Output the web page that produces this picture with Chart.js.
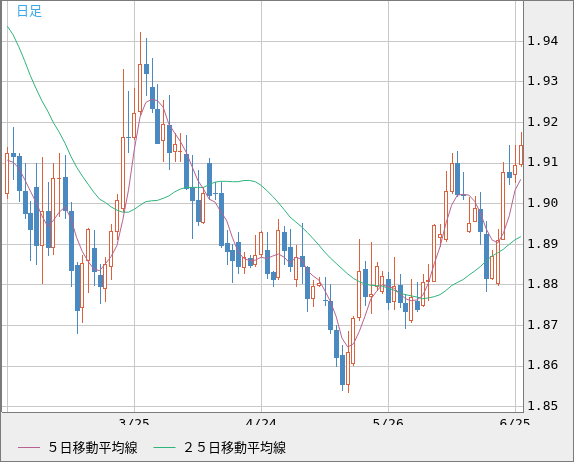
<!DOCTYPE html>
<html>
<head>
<meta charset="utf-8">
<script src="https://cdn.jsdelivr.net/npm/chart.js@4/dist/chart.umd.min.js"></script>
<style>
  html, body { margin: 0; padding: 0; background: #fff; }
  #wrap { width: 574px; height: 462px; box-sizing: border-box; border: 1px solid #7b7b7b; background: #eeeeee; overflow: hidden; }
  canvas { display: block; }
</style>
</head>
<body>
<div id="wrap"><canvas id="chart" width="572" height="460"></canvas></div>
<script>
// daily candles, oldest first
const opens = [
  1.9025, 1.9124, 1.9117, 1.9031, 1.8976, 1.9040, 1.8896, 1.8981, 1.8891, 1.9061,
  1.9066, 1.8982, 1.8848, 1.8743, 1.8860, 1.8892, 1.8824, 1.8790, 1.8844, 1.8929,
  1.8988, 1.9165, 1.9161, 1.9225, 1.9344, 1.9287, 1.9232, 1.9155, 1.9194, 1.9126,
  1.9128, 1.9122, 1.9041, 1.9008, 1.8952, 1.9100, 1.9026, 1.9026, 1.8903, 1.8885,
  1.8905, 1.8842, 1.8866, 1.8850, 1.8873, 1.8887, 1.8831, 1.8817, 1.8929, 1.8893,
  1.8811, 1.8870, 1.8844, 1.8766, 1.8797, 1.8764, 1.8761, 1.8689, 1.8628, 1.8553,
  1.8605, 1.8719, 1.8840, 1.8770, 1.8794, 1.8782, 1.8815, 1.8757, 1.8800, 1.8755,
  1.8710, 1.8761, 1.8749, 1.8807, 1.8808, 1.8916, 1.8910, 1.9029, 1.9100, 1.9022,
  1.8930, 1.8956, 1.8988, 1.8926, 1.8815, 1.8803, 1.8911, 1.9078, 1.9070, 1.9095
];
const highs = [
  1.9139, 1.9189, 1.9124, 1.9100, 1.9006, 1.9100, 1.9115, 1.9054, 1.9101, 1.9124,
  1.9120, 1.9004, 1.8856, 1.8873, 1.8941, 1.8934, 1.8852, 1.8868, 1.8951, 1.9023,
  1.9332, 1.9278, 1.9284, 1.9423, 1.9408, 1.9358, 1.9295, 1.9255, 1.9268, 1.9173,
  1.9173, 1.9169, 1.9120, 1.9084, 1.9041, 1.9113, 1.9054, 1.9054, 1.8934, 1.8901,
  1.8930, 1.8881, 1.8873, 1.8922, 1.8932, 1.8930, 1.8835, 1.8963, 1.8944, 1.8938,
  1.8897, 1.8952, 1.8846, 1.8811, 1.8819, 1.8819, 1.8803, 1.8700, 1.8653, 1.8687,
  1.8724, 1.8914, 1.8860, 1.8905, 1.8856, 1.8835, 1.8831, 1.8868, 1.8827, 1.8778,
  1.8815, 1.8807, 1.8827, 1.8852, 1.8951, 1.8951, 1.9080, 1.9125, 1.9130, 1.9078,
  1.9017, 1.9018, 1.9029, 1.8957, 1.8885, 1.8938, 1.9103, 1.9144, 1.9144, 1.9177
];
const lows = [
  1.9011, 1.9058, 1.9004, 1.8961, 1.8860, 1.8848, 1.8801, 1.8870, 1.8873, 1.8967,
  1.8963, 1.8794, 1.8679, 1.8705, 1.8779, 1.8798, 1.8753, 1.8757, 1.8811, 1.8910,
  1.8979, 1.9124, 1.9157, 1.9216, 1.9265, 1.9223, 1.9147, 1.9103, 1.9082, 1.9103,
  1.9103, 1.9033, 1.8914, 1.8944, 1.8949, 1.9008, 1.9008, 1.8890, 1.8848, 1.8804,
  1.8827, 1.8827, 1.8841, 1.8843, 1.8868, 1.8815, 1.8794, 1.8811, 1.8848, 1.8831,
  1.8794, 1.8803, 1.8732, 1.8745, 1.8794, 1.8747, 1.8680, 1.8598, 1.8539, 1.8535,
  1.8601, 1.8712, 1.8749, 1.8729, 1.8786, 1.8778, 1.8737, 1.8737, 1.8744, 1.8691,
  1.8705, 1.8732, 1.8745, 1.8761, 1.8807, 1.8893, 1.8905, 1.9025, 1.9017, 1.9008,
  1.8928, 1.8955, 1.8897, 1.8782, 1.8811, 1.8797, 1.8910, 1.9045, 1.9050, 1.9091
];
const closes = [
  1.9124, 1.9115, 1.9031, 1.8974, 1.8936, 1.8895, 1.8981, 1.8891, 1.9062, 1.9064,
  1.8982, 1.8835, 1.8735, 1.8854, 1.8937, 1.8831, 1.8794, 1.8852, 1.8932, 1.9008,
  1.9163, 1.9162, 1.9223, 1.9344, 1.9319, 1.9232, 1.9148, 1.9195, 1.9124, 1.9147,
  1.9130, 1.9037, 1.9007, 1.8955, 1.9027, 1.9018, 1.9023, 1.8895, 1.8881, 1.8860,
  1.8844, 1.8868, 1.8846, 1.8874, 1.8929, 1.8826, 1.8812, 1.8934, 1.8883, 1.8844,
  1.8868, 1.8844, 1.8766, 1.8798, 1.8805, 1.8760, 1.8689, 1.8621, 1.8553, 1.8635,
  1.8719, 1.8835, 1.8770, 1.8778, 1.8846, 1.8823, 1.8755, 1.8797, 1.8755, 1.8732,
  1.8770, 1.8737, 1.8808, 1.8811, 1.8947, 1.8926, 1.9031, 1.9101, 1.9021, 1.9019,
  1.8953, 1.8990, 1.8930, 1.8815, 1.8870, 1.8910, 1.9078, 1.9062, 1.9095, 1.9144
];

// moving averages as drawn
const ma5 = [
  1.9107, 1.9102, 1.9087, 1.9060, 1.9031, 1.9003, 1.8970, 1.8944, 1.8959, 1.8979,
  1.8992, 1.8964, 1.8917, 1.8882, 1.8858, 1.8839, 1.8835, 1.8852, 1.8870, 1.8897,
  1.8959, 1.9033, 1.9132, 1.9213, 1.9249, 1.9257, 1.9254, 1.9238, 1.9196, 1.9174,
  1.9153, 1.9127, 1.9092, 1.9058, 1.9036, 1.9011, 1.9004, 1.8980, 1.8959, 1.8917,
  1.8882, 1.8865, 1.8860, 1.8861, 1.8868, 1.8865, 1.8871, 1.8876, 1.8868, 1.8853,
  1.8868, 1.8863, 1.8835, 1.8822, 1.8812, 1.8787, 1.8759, 1.8722, 1.8669, 1.8647,
  1.8655, 1.8685, 1.8723, 1.8765, 1.8784, 1.8801, 1.8795, 1.8792, 1.8779, 1.8766,
  1.8761, 1.8763, 1.8774, 1.8805, 1.8852, 1.8894, 1.8950, 1.8996, 1.9021, 1.9023,
  1.9021, 1.9006, 1.8977, 1.8938, 1.8911, 1.8903, 1.8928, 1.8970, 1.9033, 1.9060
];
const ma25 = [
  1.9437, 1.9416, 1.9386, 1.9352, 1.9315, 1.9283, 1.9253, 1.9228, 1.9199, 1.9176,
  1.9149, 1.9117, 1.9090, 1.9068, 1.9048, 1.9028, 1.9011, 1.9003, 1.8992, 1.8984,
  1.8979, 1.8979, 1.8986, 1.8996, 1.9005, 1.9007, 1.9008, 1.9013, 1.9019, 1.9029,
  1.9036, 1.9040, 1.9040, 1.9040, 1.9040, 1.9047, 1.9053, 1.9055, 1.9055, 1.9054,
  1.9054, 1.9057, 1.9057, 1.9054, 1.9045, 1.9032, 1.9018, 1.9002, 1.8985, 1.8967,
  1.8955, 1.8943, 1.8929, 1.8914, 1.8898, 1.8881, 1.8866, 1.8853, 1.8840, 1.8827,
  1.8816, 1.8808, 1.8802, 1.8799, 1.8798, 1.8797, 1.8792, 1.8787, 1.8780, 1.8776,
  1.8773, 1.8770, 1.8766, 1.8768, 1.8771, 1.8776, 1.8786, 1.8798, 1.8806, 1.8813,
  1.8824, 1.8834, 1.8845, 1.8859, 1.8871, 1.8879, 1.8888, 1.8900, 1.8911, 1.8919
];

// date ticks (candle index -> label)
const tickIndex = [0, 22, 44, 66, 88];
const tickText = ['', '3/25', '4/24', '5/26', '6/25'];
const priceTicks = [1.85, 1.86, 1.87, 1.88, 1.89, 1.90, 1.91, 1.92, 1.93, 1.94];

const UP = '#dc623d';
const DOWN = '#4b8ac1';
const MA5_COLOR = '#b7628f';
const MA25_COLOR = '#2fb47c';
const GRID = '#c8c8c8';
const FRAME = '#7b7b7b';

const idx = closes.map((c, i) => i);
const isUp = i => closes[i] >= opens[i];

const wickData = idx.map(i => ({ x: i, y: [lows[i], highs[i]] }));
const wickColors = idx.map(i => isUp(i) ? UP : DOWN);
const upData = idx.filter(isUp).map(i => ({ x: i, y: [opens[i], closes[i]] }));
const downData = idx.filter(i => !isUp(i)).map(i => ({ x: i, y: [closes[i], opens[i]] }));

// panel background, plot frame and the "日足" caption
const panelPlugin = {
    id: 'panel',
    beforeDraw(chart) {
        const { ctx, chartArea: a } = chart;
        ctx.save();
        ctx.fillStyle = '#eeeeee';
        ctx.fillRect(0, 0, chart.width, chart.height);
        ctx.fillStyle = '#ffffff';
        ctx.fillRect(a.left, a.top, a.right - a.left, a.bottom - a.top);
        ctx.fillStyle = FRAME;
        ctx.fillRect(a.left - 1, a.top, 1, a.bottom - a.top);
        ctx.restore();
    },
    // snap candle rects to whole pixels so wicks and bodies stay crisp
    beforeDatasetsDraw(chart) {
        chart.data.datasets.forEach((ds, di) => {
            const meta = chart.getDatasetMeta(di);
            if (meta.type !== 'bar') return;
            meta.data.forEach(el => {
                const p = Math.round(el.x);
                el.x = el.width % 2 ? p + 0.5 : p;
                el.y = Math.round(el.y);
                el.base = Math.round(el.base);
            });
        });
    },
    afterDraw(chart) {
        const { ctx, chartArea: a } = chart;
        ctx.save();
        ctx.fillStyle = '#39a9ea';
        ctx.font = '13px "Noto Sans CJK JP"';
        ctx.textBaseline = 'middle';
        ctx.fillText('日足', a.left + 14, a.top + 9.5);
        ctx.restore();
    }
};

// keep the plot flush with the frame (no label overhang padding)
function noPad(scale) {
    scale.paddingTop = 0;
    scale.paddingBottom = 0;
    scale.paddingLeft = 0;
    scale.paddingRight = 0;
}

const monoFont = { family: '"DejaVu Sans Mono", monospace', size: 13 };

new Chart(document.getElementById('chart'), {
    type: 'bar',
    data: {
        datasets: [
            {
                type: 'line',
                label: '５日移動平均線',
                data: ma5.map((v, i) => ({ x: i, y: v })),
                borderColor: MA5_COLOR,
                borderWidth: 1,
                pointRadius: 0,
                tension: 0,
                order: 0
            },
            {
                type: 'line',
                label: '２５日移動平均線',
                data: ma25.map((v, i) => ({ x: i, y: v })),
                borderColor: MA25_COLOR,
                borderWidth: 1,
                pointRadius: 0,
                tension: 0,
                order: 1
            },
            {
                label: 'up',
                data: upData,
                backgroundColor: '#ffffff',
                borderColor: UP,
                borderWidth: 1,
                borderSkipped: false,
                barThickness: 4,
                minBarLength: 1,
                inflateAmount: 0,
                grouped: false,
                order: 2
            },
            {
                label: 'down',
                data: downData,
                backgroundColor: DOWN,
                borderWidth: 0,
                barThickness: 5,
                minBarLength: 1,
                inflateAmount: 0,
                grouped: false,
                order: 3
            },
            {
                label: 'wick',
                data: wickData,
                backgroundColor: wickColors,
                borderWidth: 0,
                barThickness: 1,
                inflateAmount: 0,
                grouped: false,
                order: 4
            }
        ]
    },
    options: {
        responsive: false,
        animation: false,
        events: [],
        layout: { padding: { left: 1, top: 0, right: 0, bottom: -3 } },
        plugins: {
            tooltip: { enabled: false },
            legend: {
                position: 'bottom',
                align: 'start',
                labels: {
                    filter: item => item.datasetIndex < 2,
                    usePointStyle: true,
                    pointStyle: 'line',
                    pointStyleWidth: 22,
                    padding: 16,
                    color: '#000',
                    font: { family: '"Noto Sans CJK JP"', size: 13 }
                }
            }
        },
        scales: {
            x: {
                type: 'linear',
                offset: false,
                min: -0.92,
                max: 89.38,
                afterFit: scale => { scale.height = 13; noPad(scale); },
                afterBuildTicks: scale => { scale.ticks = tickIndex.map(v => ({ value: v })); },
                ticks: {
                    autoSkip: false,
                    maxRotation: 0,
                    padding: 5,
                    color: '#000',
                    font: monoFont,
                    callback: value => tickText[tickIndex.indexOf(value)]
                },
                grid: { color: GRID, drawTicks: false, offset: false },
                border: { color: FRAME }
            },
            y: {
                position: 'right',
                min: 1.8487,
                max: 1.9499,
                afterFit: scale => { scale.width = 50; noPad(scale); },
                afterBuildTicks: scale => { scale.ticks = priceTicks.map(v => ({ value: v })); },
                ticks: {
                    padding: 4,
                    color: '#000',
                    font: monoFont,
                    callback: value => value.toFixed(2)
                },
                grid: { color: GRID, drawTicks: false },
                border: { color: FRAME }
            }
        }
    },
    plugins: [panelPlugin]
});
</script>
</body>
</html>
